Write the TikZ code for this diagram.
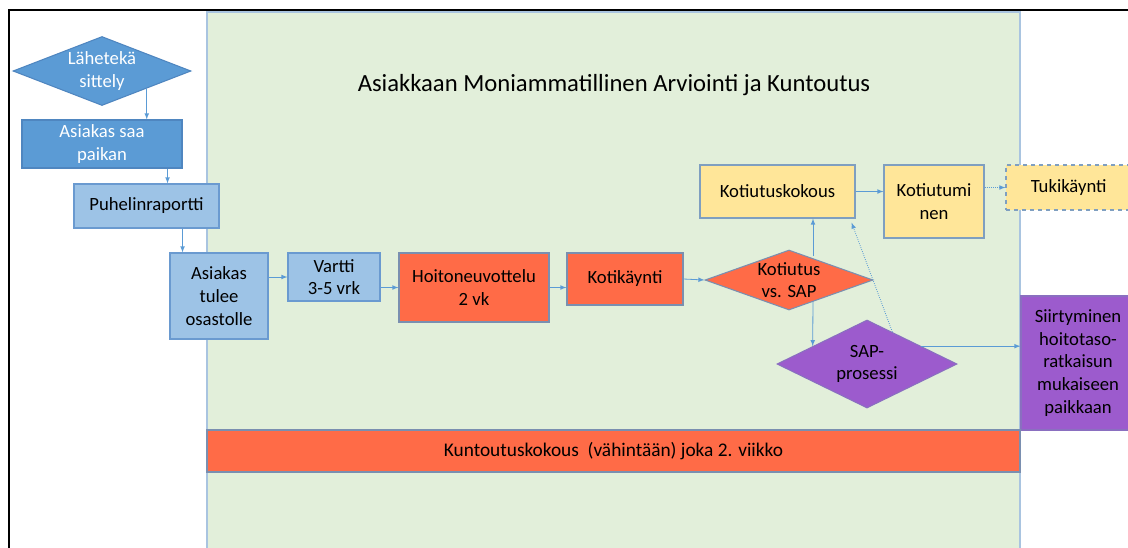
\documentclass[tikz,border=0pt]{standalone}
\usepackage{fontspec}
\setmainfont{Carlito}
\usepackage{xcolor}
\usepackage{tikz}
\usetikzlibrary{shapes.geometric,calc}

\definecolor{tausta}{HTML}{E2EFDA}
\definecolor{taustareuna}{HTML}{A9C4E0}
\definecolor{tsininen}{HTML}{5B9BD5}
\definecolor{tsinireuna}{HTML}{4F86C0}
\definecolor{vsininen}{HTML}{9DC3E6}
\definecolor{vsinireuna}{HTML}{6A9AD0}
\definecolor{oranssi}{HTML}{FF6B47}
\definecolor{oranssireuna}{HTML}{7A8FB0}
\definecolor{keltainen}{HTML}{FFE699}
\definecolor{keltareuna}{HTML}{7F9FC0}
\definecolor{violetti}{HTML}{9C5BCD}
\definecolor{violettireuna}{HTML}{8A6FC0}
\definecolor{nuolivari}{HTML}{5B9BD5}

\begin{document}
\begin{tikzpicture}[x=0.75pt,y=-0.75pt,
	laatikko/.style={draw,line width=0.8pt,align=center,inner sep=1pt,font=\fontsize{14}{17}\selectfont},
	salmiakki/.style={laatikko,shape=diamond,inner sep=0pt},
	nuoli/.style={->,>=latex,draw=nuolivari,line width=0.6pt}]
			\useasboundingbox (0,0) rectangle (1128,547);
			\clip (0,0) rectangle (1128,547);
			% Tausta
			\draw[fill=tausta,draw=taustareuna,line width=0.8pt] (207,12) rectangle (1020,560);
			\draw[black,line width=1.2pt] (9,560) -- (9,10) -- (1140,10);
			\node (otsikko) at (614,85) {\fontsize{18.5}{22}\selectfont Asiakkaan Moniammatillinen Arviointi ja Kuntoutus};
			% Laatikot
			\node[salmiakki,fill=tsininen,draw=tsinireuna,text=white,aspect=2.6,minimum width=133.5pt,minimum height=51.75pt] (lahete) at (102,71) {Lähetekä\\sittely};
			\node[laatikko,fill=tsininen,draw=tsinireuna,text=white,minimum width=120pt,minimum height=36pt] (saa) at (102,144) {Asiakas saa\\paikan};
			\node[laatikko,fill=vsininen,draw=vsinireuna,minimum width=108.75pt,minimum height=33pt] (puhelin) at (146.5,206) {Puhelinraportti};
			\node[laatikko,fill=vsininen,draw=vsinireuna,minimum width=73.5pt,minimum height=64.5pt] (tulee) at (219,296) {Asiakas\\tulee\\osastolle};
			\node[laatikko,fill=vsininen,draw=vsinireuna,minimum width=69pt,minimum height=36pt] (vartti) at (334,277) {Vartti\\3-5 vrk};
			\node[laatikko,fill=oranssi,draw=oranssireuna,minimum width=112.5pt,minimum height=51.75pt] (hoito) at (474,287.5) {Hoitoneuvottelu\\2 vk};
			\node[laatikko,fill=oranssi,draw=oranssireuna,minimum width=87pt,minimum height=39pt] (koti) at (625,279) {Kotikäynti};
			\node[salmiakki,fill=oranssi,draw=oranssireuna,aspect=2.8,minimum width=126pt,minimum height=45pt] (kvs) at (789,280) {Kotiutus\\vs. SAP};
			\node[laatikko,fill=keltainen,draw=keltareuna,minimum width=116.25pt,minimum height=39.75pt] (kokous) at (777.5,191.5) {Kotiutuskokous};
			\node[laatikko,fill=keltainen,draw=keltareuna,minimum width=75pt,minimum height=54.75pt] (kotiutuminen) at (934,201.5) {Kotiutumi\\nen};
			\node[laatikko,fill=keltainen,draw=keltareuna,dashed,minimum width=102pt,minimum height=33.75pt] (tuki) at (1074,187.5) {Tukikäynti\hspace*{8pt}};
			\node[salmiakki,fill=violetti,draw=violettireuna,aspect=2.05,minimum width=135pt,minimum height=66pt] (sap) at (867,364) {SAP-\\prosessi};
			\node[laatikko,fill=violetti,draw=violettireuna,minimum width=85.5pt,minimum height=100.5pt] (siirty) at (1078,363) {Siirtyminen\\hoitotaso-\\ratkaisun\\mukaiseen\\paikkaan};
			\node[laatikko,fill=oranssi,draw=oranssireuna,minimum width=609.75pt,minimum height=31.5pt,font=\fontsize{14.5}{17}\selectfont] (kokousrivi) at (613.5,451) {Kuntoutuskokous~ (vähintään) joka 2. viikko};
			% Nuolet
			\draw[nuoli] (lahete.south east) -- (lahete.south east |- saa.north);
			\coordinate (a1) at ($(saa.south east)+(-15,0)$);
			\draw[nuoli] (a1) -- (a1 |- puhelin.north);
			\coordinate (a2) at ($(puhelin.south east)+(-37,0)$);
			\draw[nuoli] (a2) -- (a2 |- tulee.north);
			\draw[nuoli] (tulee.east |- vartti) -- (vartti.west);
			\draw[nuoli] (vartti.east |- hoito) -- (hoito.west);
			\draw[nuoli] (hoito.east) -- (hoito.east -| koti.west);
			\draw[nuoli] (koti.east) -- (kvs.west);
			\coordinate (k1) at ($(kvs.center)+(24,-24)$);
			\draw[nuoli] (k1) -- (k1 |- kokous.south);
			\coordinate (k2) at ($(kvs.center)+(24,21)$);
			\draw[nuoli] (k2) -- ($(sap.west)!0.4!(sap.north)$);
			\draw[nuoli,densely dotted] ($(sap.north)!0.28!(sap.east)$) -- ([shift={(-4,4)}]kokous.south east);
			\coordinate (s1) at ($(sap.north)!0.6!(sap.east)$);
			\draw[nuoli] (s1) -- (s1 -| siirty.west);
			\draw[nuoli] (kokous.east) -- (kokous.east -| kotiutuminen.west);
			\draw[nuoli,densely dotted] (kotiutuminen.east |- tuki) -- (tuki.west);
\end{tikzpicture}
\end{document}
